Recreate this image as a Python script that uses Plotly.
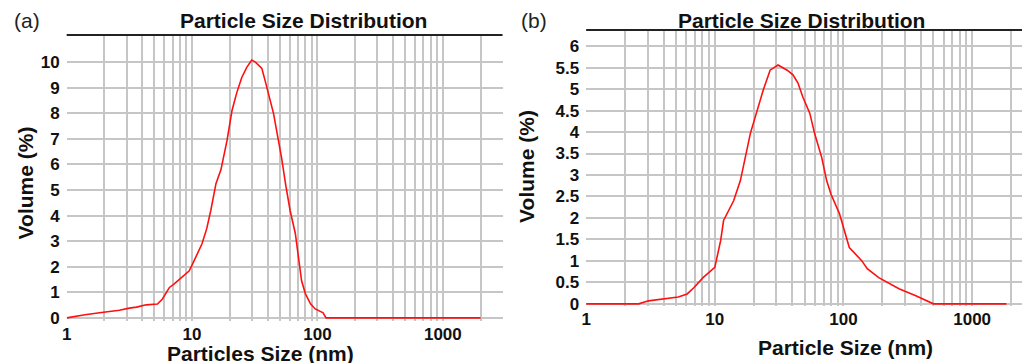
import plotly.graph_objects as go

# ---------------- data ----------------
size_a = [1.0, 1.2, 1.4, 1.83, 2.2, 2.63, 3.16, 3.6, 4.3, 5.3, 5.8, 6.6, 7.2, 8.3, 9.5,
          10.3, 12, 13.1, 14.1, 15.5, 17, 19, 20.8, 22.7, 24.9, 27.3, 29.9, 32, 36,
          38.6, 42, 44.6, 47.2, 51.7, 55.8, 60.5, 66.6, 70.6, 74.7, 80.2, 88, 96, 111,
          117, 2000]
vol_a = [0, 0.05, 0.12, 0.2, 0.24, 0.3, 0.38, 0.42, 0.51, 0.54, 0.74, 1.19, 1.33, 1.6, 1.84,
         2.2, 2.9, 3.5, 4.2, 5.25, 5.8, 6.94, 8.1, 8.8, 9.4, 9.8, 10.08, 10.0, 9.76,
         9.2, 8.5, 8.0, 7.33, 6.27, 5.2, 4.2, 3.3, 2.35, 1.45, 0.94, 0.55, 0.35, 0.2,
         0, 0]

size_b = [1, 2.56, 3.05, 3.84, 5.2, 6.1, 6.9, 8.1, 9.3, 10.0, 11.1, 11.7, 14, 15.8, 18.9,
          21.4, 23.8, 26.9, 31, 36.5, 40.5, 44.3, 48.4, 54.7, 59.6, 67.7, 74, 80, 93,
          111, 139, 153, 188, 270, 365, 500, 1850]
vol_b = [0, 0, 0.07, 0.11, 0.16, 0.23, 0.38, 0.61, 0.77, 0.85, 1.47, 1.94, 2.4, 2.87, 3.97,
         4.5, 4.98, 5.44, 5.56, 5.44, 5.33, 5.14, 4.81, 4.44, 3.97, 3.41, 2.87, 2.55, 2.1,
         1.31, 1.0, 0.82, 0.61, 0.35, 0.19, 0, 0]

x_grid = [m * 10 ** e for e in range(0, 4) for m in range(1, 10) if m * 10 ** e <= 3000]
x_labels = ["1", "10", "100", "1000"]
y_ticks_a = list(range(0, 11))
y_ticks_b = [0, 0.5, 1, 1.5, 2, 2.5, 3, 3.5, 4, 4.5, 5, 5.5, 6]

panel_titles = ["Particle Size Distribution", "Particle Size Distribution"]
x_titles = ["Particles Size (nm)", "Particle Size (nm)"]
y_title = "Volume (%)"
panel_tags = ["(a)", "(b)"]


def xtext(v):
    s = str(int(v))
    return s if s in x_labels else ""


W = 1022
H_REF = 363          # reference pixel grid used for positions below
H = 372              # figure height (captured page is fitted into 363 px)
FONT = "Liberation Sans, Arial, sans-serif"
GRID = "#c6c6c6"

fig = go.Figure()
fig.add_trace(go.Scatter(x=size_a, y=vol_a, mode="lines", xaxis="x", yaxis="y",
                         line=dict(color="#ff1010", width=1.6), showlegend=False))
fig.add_trace(go.Scatter(x=size_b, y=vol_b, mode="lines", xaxis="x2", yaxis="y2",
                         line=dict(color="#ff1010", width=1.6), showlegend=False))

tickfont = dict(family=FONT, size=17, color="#111", weight="bold")


def xax(domain, rng, anchor):
    return dict(type="log", domain=domain, range=rng, anchor=anchor,
                tickvals=x_grid, ticktext=[xtext(v) for v in x_grid],
                showgrid=True, gridcolor=GRID, gridwidth=2, zeroline=False,
                showline=False, ticks="", tickfont=tickfont, ticklabelstandoff=1)


def yax(domain, rng, anchor, vals):
    return dict(domain=domain, range=rng, anchor=anchor, tickvals=vals,
                ticktext=[("%g" % v) for v in vals],
                showgrid=True, gridcolor=GRID, gridwidth=2, zeroline=False,
                showline=False, ticks="", tickfont=tickfont, ticklabelstandoff=6)


def fy(p):
    return 1 - p / H_REF


ax_dom = [62 / W, 500 / W]
ay_dom = [fy(320), fy(35)]
bx_dom = [584 / W, 1.0]
by_dom = [fy(305), fy(30)]

fig.update_layout(
    width=W, height=H, margin=dict(l=0, r=0, t=0, b=0),
    paper_bgcolor="white", plot_bgcolor="white",
    xaxis=xax(ax_dom, [0, (500 - 62) / 126.0], "y"),
    yaxis=yax(ay_dom, [-(320 - 317) / 25.5, (317 - 35) / 25.5], "x", y_ticks_a),
    xaxis2=xax(bx_dom, [0, (1022 - 584) / 129.3], "y2"),
    yaxis2=yax(by_dom, [-(305 - 303) / 42.83, 6 + (46 - 30) / 42.83], "x2", y_ticks_b),
)

# top black border lines
for xr, yr in (("x domain", "y domain"), ("x2 domain", "y2 domain")):
    fig.add_shape(type="line", xref=xr, yref=yr, x0=0, x1=1, y0=1, y1=1,
                  line=dict(color="#222", width=2))

ann = []
titlefont = dict(family=FONT, size=21, color="#111", weight="bold")
for cx, cy, t in ((300, 20, panel_titles[0]), (800, 20, panel_titles[1])):
    ann.append(dict(x=cx / W, y=fy(cy), text=t, font=titlefont))
for cx, cy, t in ((257, 353, x_titles[0]), (845, 347, x_titles[1])):
    ann.append(dict(x=cx / W, y=fy(cy), text=t, font=titlefont))
for cx, cy in ((21, 182), (524, 166)):
    ann.append(dict(x=cx / W, y=fy(cy), text=y_title, font=titlefont, textangle=-90))
for cx, cy, t in ((22, 20, panel_tags[0]), (532, 20, panel_tags[1])):
    ann.append(dict(x=cx / W, y=fy(cy), text=t,
                    font=dict(family=FONT, size=21, color="#222")))
for a in ann:
    a.update(xref="paper", yref="paper", showarrow=False, xanchor="center", yanchor="middle",
             borderpad=0)
fig.update_layout(annotations=ann)

post = (
    "var h=document.documentElement,b=document.body;"
    "h.style.margin='0';h.style.padding='0';"
    "b.style.margin='0';b.style.padding='0';"
)
fig.write_html("out.html", post_script=post, config={"displayModeBar": False})
